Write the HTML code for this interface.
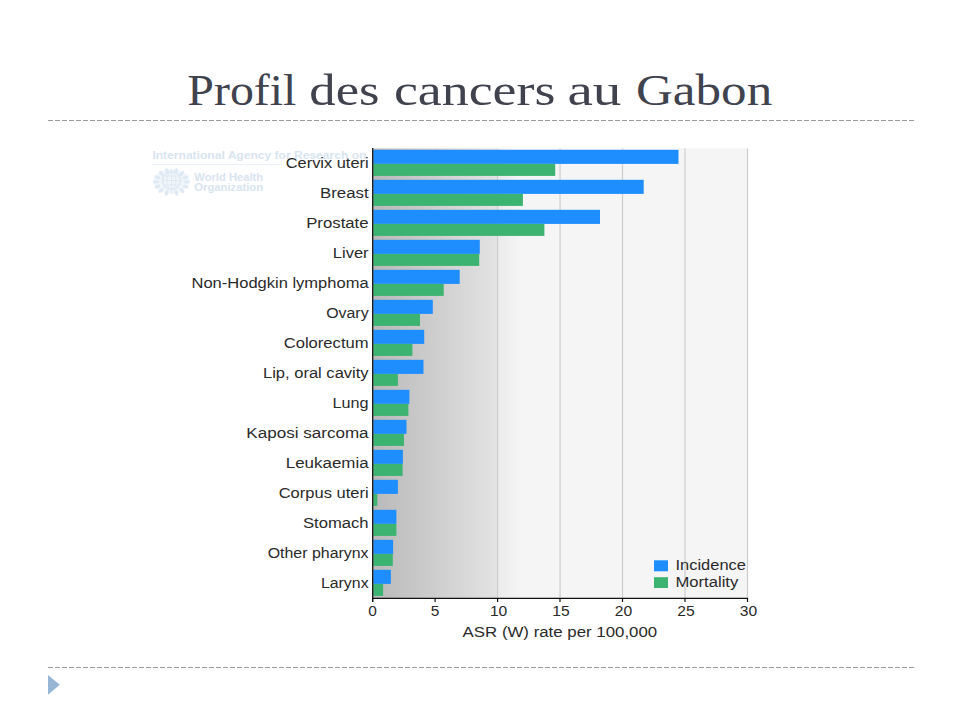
<!DOCTYPE html>
<html><head><meta charset="utf-8"><title>Profil des cancers au Gabon</title>
<style>
html,body{margin:0;padding:0;background:#fff;}
body{width:960px;height:720px;overflow:hidden;}
svg{display:block;}
text{font-family:"Liberation Sans",sans-serif;}
.t{font-family:"Liberation Serif",serif;}
</style></head><body>
<svg width="960" height="720" viewBox="0 0 960 720">
<defs>
<linearGradient id="g1" x1="373" y1="0" x2="497.5" y2="0" gradientUnits="userSpaceOnUse">
<stop offset="0" stop-color="#b9b9b9"/><stop offset="1" stop-color="#e3e3e3"/>
</linearGradient>
<linearGradient id="g2" x1="497.5" y1="0" x2="522" y2="0" gradientUnits="userSpaceOnUse">
<stop offset="0" stop-color="#ebebeb"/><stop offset="1" stop-color="#f5f5f5"/>
</linearGradient>
</defs>
<rect width="960" height="720" fill="#fff"/>
<text class="t" x="187.37" y="104.8" font-size="44" fill="#40424e" textLength="109.05" lengthAdjust="spacingAndGlyphs">Profil</text><text class="t" x="309.33" y="104.8" font-size="44" fill="#40424e" textLength="70.13" lengthAdjust="spacingAndGlyphs">des</text><text class="t" x="393.94" y="104.8" font-size="44" fill="#40424e" textLength="161.52" lengthAdjust="spacingAndGlyphs">cancers</text><text class="t" x="567.50" y="104.8" font-size="44" fill="#40424e" textLength="53.94" lengthAdjust="spacingAndGlyphs">au</text><text class="t" x="635.98" y="104.8" font-size="44" fill="#40424e" textLength="136.24" lengthAdjust="spacingAndGlyphs">Gabon</text>
<line x1="48" y1="120.5" x2="914" y2="120.5" stroke="#9a9a9a" stroke-width="1" stroke-dasharray="5 2"/>
<line x1="48" y1="667.5" x2="914" y2="667.5" stroke="#9a9a9a" stroke-width="1" stroke-dasharray="5 2"/>
<polygon points="48,675.1 59.8,684.8 48,694.7" fill="#97b5d4"/>
<g fill="#d8e4f0"><text x="152.4" y="158.8" font-size="10.5" font-weight="bold" textLength="214" lengthAdjust="spacingAndGlyphs">International Agency for Research on</text><rect x="152" y="164.2" width="130" height="1" fill="#e6eef6"/><text x="194.3" y="181.3" font-size="10" font-weight="bold" textLength="68.8" lengthAdjust="spacingAndGlyphs">World Health</text><text x="194.3" y="191.3" font-size="10" font-weight="bold" textLength="68.8" lengthAdjust="spacingAndGlyphs">Organization</text><g fill="none" stroke-linecap="round"><ellipse cx="171.5" cy="181.5" rx="18" ry="12.5" fill="#f1f6fb" stroke="none"/><circle cx="171.5" cy="180.5" r="9" stroke="#dbe6f1" stroke-width="1.3"/><ellipse cx="171.5" cy="180.5" rx="4.5" ry="9" stroke="#e0eaf4" stroke-width="1"/><path d="M162.5 180.5h18M163.5 176h16M163.5 185h16M171.5 169v24" stroke="#e0eaf4" stroke-width="1"/><ellipse cx="166.6" cy="192.9" rx="1.6" ry="3" transform="rotate(-162 166.6 192.9)" fill="#dfe9f3" stroke="none"/><ellipse cx="161.0" cy="190.5" rx="1.6" ry="3" transform="rotate(-138 161.0 190.5)" fill="#dfe9f3" stroke="none"/><ellipse cx="157.3" cy="186.6" rx="1.6" ry="3" transform="rotate(-113 157.3 186.6)" fill="#dfe9f3" stroke="none"/><ellipse cx="156.0" cy="181.9" rx="1.6" ry="3" transform="rotate(-89 156.0 181.9)" fill="#dfe9f3" stroke="none"/><ellipse cx="157.4" cy="177.2" rx="1.6" ry="3" transform="rotate(-65 157.4 177.2)" fill="#dfe9f3" stroke="none"/><ellipse cx="161.3" cy="173.4" rx="1.6" ry="3" transform="rotate(-41 161.3 173.4)" fill="#dfe9f3" stroke="none"/><ellipse cx="166.9" cy="171.0" rx="1.6" ry="3" transform="rotate(-17 166.9 171.0)" fill="#dfe9f3" stroke="none"/><ellipse cx="176.4" cy="192.9" rx="1.6" ry="3" transform="rotate(162 176.4 192.9)" fill="#dfe9f3" stroke="none"/><ellipse cx="182.0" cy="190.5" rx="1.6" ry="3" transform="rotate(138 182.0 190.5)" fill="#dfe9f3" stroke="none"/><ellipse cx="185.7" cy="186.6" rx="1.6" ry="3" transform="rotate(113 185.7 186.6)" fill="#dfe9f3" stroke="none"/><ellipse cx="187.0" cy="181.9" rx="1.6" ry="3" transform="rotate(89 187.0 181.9)" fill="#dfe9f3" stroke="none"/><ellipse cx="185.6" cy="177.2" rx="1.6" ry="3" transform="rotate(65 185.6 177.2)" fill="#dfe9f3" stroke="none"/><ellipse cx="181.7" cy="173.4" rx="1.6" ry="3" transform="rotate(41 181.7 173.4)" fill="#dfe9f3" stroke="none"/><ellipse cx="176.1" cy="171.0" rx="1.6" ry="3" transform="rotate(17 176.1 171.0)" fill="#dfe9f3" stroke="none"/></g></g>
<rect x="373" y="148.5" width="124.5" height="449.5" fill="url(#g1)"/>
<rect x="497.5" y="148.5" width="250" height="449.5" fill="url(#g2)"/>
<rect x="522" y="148.5" width="225.5" height="449.5" fill="#f5f5f5"/>
<line x1="435.08000000000004" y1="148.5" x2="435.08000000000004" y2="598" stroke="#cdcdcd" stroke-width="1.2"/><line x1="497.56" y1="148.5" x2="497.56" y2="598" stroke="#cdcdcd" stroke-width="1.2"/><line x1="560.04" y1="148.5" x2="560.04" y2="598" stroke="#cdcdcd" stroke-width="1.2"/><line x1="622.52" y1="148.5" x2="622.52" y2="598" stroke="#cdcdcd" stroke-width="1.2"/><line x1="685.0" y1="148.5" x2="685.0" y2="598" stroke="#cdcdcd" stroke-width="1.2"/><line x1="747.48" y1="148.5" x2="747.48" y2="598" stroke="#cdcdcd" stroke-width="1.2"/>
<rect x="373.3" y="149.8" width="305.2" height="14.1" fill="#1e8eff"/><rect x="373.3" y="163.9" width="181.9" height="12.0" fill="#3cb371"/><rect x="373.3" y="179.8" width="270.4" height="14.1" fill="#1e8eff"/><rect x="373.3" y="193.9" width="149.6" height="12.0" fill="#3cb371"/><rect x="373.3" y="209.8" width="226.7" height="14.1" fill="#1e8eff"/><rect x="373.3" y="223.9" width="171.1" height="12.0" fill="#3cb371"/><rect x="373.3" y="239.8" width="106.5" height="14.1" fill="#1e8eff"/><rect x="373.3" y="253.9" width="105.9" height="12.0" fill="#3cb371"/><rect x="373.3" y="269.8" width="86.4" height="14.1" fill="#1e8eff"/><rect x="373.3" y="283.9" width="70.4" height="12.0" fill="#3cb371"/><rect x="373.3" y="299.8" width="59.5" height="14.1" fill="#1e8eff"/><rect x="373.3" y="313.9" width="46.7" height="12.0" fill="#3cb371"/><rect x="373.3" y="329.8" width="50.9" height="14.1" fill="#1e8eff"/><rect x="373.3" y="343.9" width="39.1" height="12.0" fill="#3cb371"/><rect x="373.3" y="359.8" width="50.2" height="14.1" fill="#1e8eff"/><rect x="373.3" y="373.9" width="24.6" height="12.0" fill="#3cb371"/><rect x="373.3" y="389.8" width="36.1" height="14.1" fill="#1e8eff"/><rect x="373.3" y="403.9" width="35.1" height="12.0" fill="#3cb371"/><rect x="373.3" y="419.8" width="33.2" height="14.1" fill="#1e8eff"/><rect x="373.3" y="433.9" width="30.7" height="12.0" fill="#3cb371"/><rect x="373.3" y="449.8" width="29.6" height="14.1" fill="#1e8eff"/><rect x="373.3" y="463.9" width="29.3" height="12.0" fill="#3cb371"/><rect x="373.3" y="479.8" width="24.6" height="14.1" fill="#1e8eff"/><rect x="373.3" y="493.9" width="4.0" height="12.0" fill="#3cb371"/><rect x="373.3" y="509.8" width="23.1" height="14.1" fill="#1e8eff"/><rect x="373.3" y="523.9" width="23.1" height="12.0" fill="#3cb371"/><rect x="373.3" y="539.8" width="19.8" height="14.1" fill="#1e8eff"/><rect x="373.3" y="553.9" width="19.5" height="12.0" fill="#3cb371"/><rect x="373.3" y="569.8" width="17.6" height="14.1" fill="#1e8eff"/><rect x="373.3" y="583.9" width="9.8" height="12.0" fill="#3cb371"/>
<line x1="372.7" y1="148" x2="372.7" y2="602" stroke="#111" stroke-width="1.3"/>
<line x1="372" y1="598.3" x2="748" y2="598.3" stroke="#111" stroke-width="1.2"/>
<line x1="372.6" y1="598" x2="372.6" y2="602" stroke="#111" stroke-width="1.2"/><line x1="435.1" y1="598" x2="435.1" y2="602" stroke="#111" stroke-width="1.2"/><line x1="497.6" y1="598" x2="497.6" y2="602" stroke="#111" stroke-width="1.2"/><line x1="560.0" y1="598" x2="560.0" y2="602" stroke="#111" stroke-width="1.2"/><line x1="622.5" y1="598" x2="622.5" y2="602" stroke="#111" stroke-width="1.2"/><line x1="685.0" y1="598" x2="685.0" y2="602" stroke="#111" stroke-width="1.2"/><line x1="747.5" y1="598" x2="747.5" y2="602" stroke="#111" stroke-width="1.2"/>
<g font-size="14" fill="#2a2a2a"><text x="285.8" y="167.9" textLength="82.8" lengthAdjust="spacingAndGlyphs">Cervix uteri</text><text x="320.0" y="197.9" textLength="48.6" lengthAdjust="spacingAndGlyphs">Breast</text><text x="306.2" y="227.9" textLength="62.4" lengthAdjust="spacingAndGlyphs">Prostate</text><text x="332.8" y="257.9" textLength="35.8" lengthAdjust="spacingAndGlyphs">Liver</text><text x="191.5" y="287.9" textLength="177.1" lengthAdjust="spacingAndGlyphs">Non-Hodgkin lymphoma</text><text x="326.2" y="317.9" textLength="42.4" lengthAdjust="spacingAndGlyphs">Ovary</text><text x="283.7" y="347.9" textLength="84.9" lengthAdjust="spacingAndGlyphs">Colorectum</text><text x="263.0" y="377.9" textLength="105.6" lengthAdjust="spacingAndGlyphs">Lip, oral cavity</text><text x="332.5" y="407.9" textLength="36.1" lengthAdjust="spacingAndGlyphs">Lung</text><text x="246.3" y="437.9" textLength="122.3" lengthAdjust="spacingAndGlyphs">Kaposi sarcoma</text><text x="285.8" y="467.9" textLength="82.8" lengthAdjust="spacingAndGlyphs">Leukaemia</text><text x="278.7" y="497.9" textLength="89.9" lengthAdjust="spacingAndGlyphs">Corpus uteri</text><text x="303.0" y="527.9" textLength="65.6" lengthAdjust="spacingAndGlyphs">Stomach</text><text x="267.7" y="557.9" textLength="100.9" lengthAdjust="spacingAndGlyphs">Other pharynx</text><text x="320.9" y="587.9" textLength="47.7" lengthAdjust="spacingAndGlyphs">Larynx</text></g>
<g font-size="14" fill="#2a2a2a" text-anchor="middle"><text x="372.6" y="616.2" textLength="8.6" lengthAdjust="spacingAndGlyphs">0</text><text x="435.1" y="616.2" textLength="8.6" lengthAdjust="spacingAndGlyphs">5</text><text x="498.6" y="616.2" textLength="17.4" lengthAdjust="spacingAndGlyphs">10</text><text x="561.0" y="616.2" textLength="17.4" lengthAdjust="spacingAndGlyphs">15</text><text x="623.5" y="616.2" textLength="17.4" lengthAdjust="spacingAndGlyphs">20</text><text x="686.0" y="616.2" textLength="17.4" lengthAdjust="spacingAndGlyphs">25</text><text x="748.5" y="616.2" textLength="17.4" lengthAdjust="spacingAndGlyphs">30</text></g>
<text x="462.6" y="637.3" font-size="14" fill="#2a2a2a" textLength="194.6" lengthAdjust="spacingAndGlyphs">ASR (W) rate per 100,000</text>
<rect x="654" y="560.3" width="14" height="11" fill="#1e8eff"/><rect x="654" y="577.2" width="14" height="10.8" fill="#3cb371"/><text x="675.5" y="570.4" font-size="14" fill="#2a2a2a" textLength="70.4" lengthAdjust="spacingAndGlyphs">Incidence</text><text x="675.5" y="587.2" font-size="14" fill="#2a2a2a" textLength="62.8" lengthAdjust="spacingAndGlyphs">Mortality</text>
</svg>
</body></html>
